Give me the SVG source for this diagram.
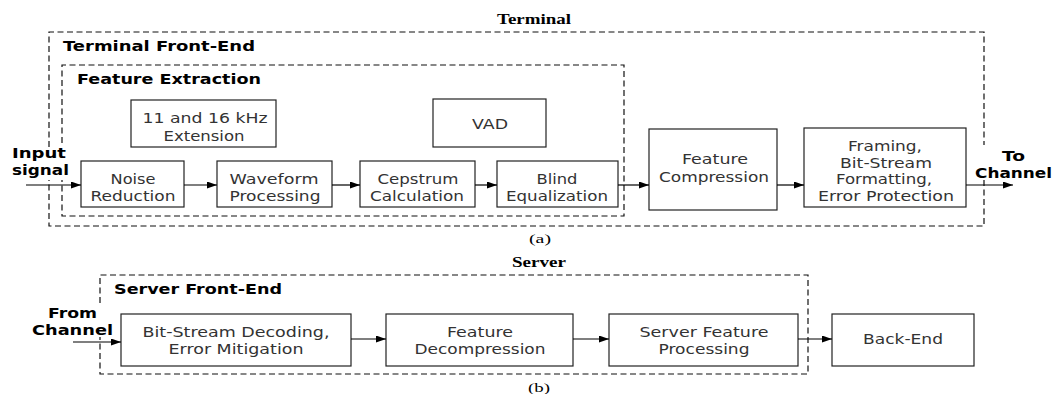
<svg xmlns="http://www.w3.org/2000/svg" width="1056" height="394" viewBox="0 0 1056 394">
  <style>
    .box { fill: #fff; stroke: #222; stroke-width: 1.2; }
    .dash { fill: none; stroke: #111; stroke-width: 1.2; stroke-dasharray: 6 3.5; }
    .lbl { font-family: "DejaVu Sans", Verdana, sans-serif; font-size: 14px; fill: #333; text-anchor: middle; }
    .bold { font-family: "DejaVu Sans", Verdana, sans-serif; font-size: 14px; font-weight: bold; fill: #000; }
    .title { font-family: "Liberation Serif", "Times New Roman", serif; font-size: 14px; font-weight: bold; fill: #000; text-anchor: middle; }
    .cap { font-family: "Liberation Serif", "Times New Roman", serif; font-size: 13px; fill: #000; text-anchor: middle; }
    .wire { fill: none; stroke: #000; stroke-width: 1.2; marker-end: url(#arrow); }
  </style>
  <defs>
    <marker id="arrow" markerUnits="userSpaceOnUse" markerWidth="11" markerHeight="8" refX="10" refY="3.5" orient="auto">
      <path d="M0,0 L10,3.5 L0,7 z" fill="#000"/>
    </marker>
  </defs>
  <rect width="1056" height="394" fill="#fff"/>

  <!-- (a) terminal side -->
  <g id="terminal">
    <text class="title" x="534" y="24" textLength="74" lengthAdjust="spacingAndGlyphs">Terminal</text>
    <path class="dash" d="M49,147 V32 H984 V145 M984,180 V226 H49 V180"/>
  </g>
  <g id="terminal-front-end">
    <text class="bold" x="63" y="51" textLength="192" lengthAdjust="spacingAndGlyphs">Terminal Front-End</text>
  </g>
  <g id="feature-extraction">
    <path class="dash" d="M62,143 V65 H624 V216 H62 V180"/>
    <text class="bold" x="77" y="84" textLength="184" lengthAdjust="spacingAndGlyphs">Feature Extraction</text>
  </g>
  <g id="ext">
    <rect class="box" x="131" y="100" width="145" height="47"/>
    <text class="lbl" x="205" y="123" textLength="125" lengthAdjust="spacingAndGlyphs">11 and 16 kHz</text>
    <text class="lbl" x="204" y="141" textLength="81" lengthAdjust="spacingAndGlyphs">Extension</text>
  </g>
  <g id="vad">
    <rect class="box" x="433" y="99" width="113" height="48"/>
    <text class="lbl" x="490" y="129" textLength="36" lengthAdjust="spacingAndGlyphs">VAD</text>
  </g>
  <g id="noise">
    <rect class="box" x="81" y="161" width="103" height="46"/>
    <text class="lbl" x="133" y="184" textLength="45" lengthAdjust="spacingAndGlyphs">Noise</text>
    <text class="lbl" x="133" y="201" textLength="85" lengthAdjust="spacingAndGlyphs">Reduction</text>
  </g>
  <g id="waveform">
    <rect class="box" x="217" y="161" width="115" height="46"/>
    <text class="lbl" x="274" y="184" textLength="89" lengthAdjust="spacingAndGlyphs">Waveform</text>
    <text class="lbl" x="275" y="201" textLength="91" lengthAdjust="spacingAndGlyphs">Processing</text>
  </g>
  <g id="cepstrum">
    <rect class="box" x="360" y="161" width="115" height="46"/>
    <text class="lbl" x="418" y="184" textLength="81" lengthAdjust="spacingAndGlyphs">Cepstrum</text>
    <text class="lbl" x="417" y="201" textLength="94" lengthAdjust="spacingAndGlyphs">Calculation</text>
  </g>
  <g id="blind">
    <rect class="box" x="497" y="161" width="121" height="46"/>
    <text class="lbl" x="557" y="184" textLength="41" lengthAdjust="spacingAndGlyphs">Blind</text>
    <text class="lbl" x="557" y="201" textLength="102" lengthAdjust="spacingAndGlyphs">Equalization</text>
  </g>
  <g id="compression">
    <rect class="box" x="649" y="129" width="128" height="81"/>
    <text class="lbl" x="715" y="164" textLength="66" lengthAdjust="spacingAndGlyphs">Feature</text>
    <text class="lbl" x="714" y="182" textLength="110" lengthAdjust="spacingAndGlyphs">Compression</text>
  </g>
  <g id="framing">
    <rect class="box" x="804" y="128" width="162" height="79"/>
    <text class="lbl" x="885" y="151" textLength="74" lengthAdjust="spacingAndGlyphs">Framing,</text>
    <text class="lbl" x="886" y="168" textLength="92" lengthAdjust="spacingAndGlyphs">Bit-Stream</text>
    <text class="lbl" x="884" y="184" textLength="96" lengthAdjust="spacingAndGlyphs">Formatting,</text>
    <text class="lbl" x="886" y="201" textLength="136" lengthAdjust="spacingAndGlyphs">Error Protection</text>
  </g>
  <g id="input">
    <text class="bold" x="12" y="158" textLength="54" lengthAdjust="spacingAndGlyphs">Input</text>
    <text class="bold" x="12" y="175" textLength="57" lengthAdjust="spacingAndGlyphs">signal</text>
  </g>
  <g id="to-channel">
    <text class="bold" x="1002" y="161" textLength="23" lengthAdjust="spacingAndGlyphs">To</text>
    <text class="bold" x="975" y="178" textLength="77" lengthAdjust="spacingAndGlyphs">Channel</text>
  </g>
  <text class="cap" x="540" y="243" textLength="22" lengthAdjust="spacingAndGlyphs">(a)</text>

  <!-- (b) server side -->
  <g id="server">
    <text class="title" x="539" y="267" textLength="54" lengthAdjust="spacingAndGlyphs">Server</text>
  </g>
  <g id="server-front-end">
    <path class="dash" d="M100,303 V275 H808 V374 H100 V337"/>
    <text class="bold" x="114" y="294" textLength="168" lengthAdjust="spacingAndGlyphs">Server Front-End</text>
  </g>
  <g id="decoding">
    <rect class="box" x="121" y="314" width="230" height="52"/>
    <text class="lbl" x="236" y="337" textLength="187" lengthAdjust="spacingAndGlyphs">Bit-Stream Decoding,</text>
    <text class="lbl" x="236" y="354" textLength="135" lengthAdjust="spacingAndGlyphs">Error Mitigation</text>
  </g>
  <g id="decompression">
    <rect class="box" x="386" y="314" width="187" height="52"/>
    <text class="lbl" x="480" y="337" textLength="66" lengthAdjust="spacingAndGlyphs">Feature</text>
    <text class="lbl" x="480" y="354" textLength="131" lengthAdjust="spacingAndGlyphs">Decompression</text>
  </g>
  <g id="server-processing">
    <rect class="box" x="609" y="314" width="189" height="52"/>
    <text class="lbl" x="704" y="337" textLength="129" lengthAdjust="spacingAndGlyphs">Server Feature</text>
    <text class="lbl" x="704" y="354" textLength="91" lengthAdjust="spacingAndGlyphs">Processing</text>
  </g>
  <g id="back-end">
    <rect class="box" x="832" y="314" width="142" height="52"/>
    <text class="lbl" x="903" y="344" textLength="80" lengthAdjust="spacingAndGlyphs">Back-End</text>
  </g>
  <g id="from-channel">
    <text class="bold" x="48" y="318" textLength="49" lengthAdjust="spacingAndGlyphs">From</text>
    <text class="bold" x="32" y="335" textLength="81" lengthAdjust="spacingAndGlyphs">Channel</text>
  </g>
  <text class="cap" x="539" y="392" textLength="22" lengthAdjust="spacingAndGlyphs">(b)</text>

  <!-- connectors -->
  <g id="connectors">
    <path class="wire" d="M26,185 H81"/>
    <path class="wire" d="M184,185 H217"/>
    <path class="wire" d="M332,185 H360"/>
    <path class="wire" d="M475,185 H497"/>
    <path class="wire" d="M618,185 H649"/>
    <path class="wire" d="M777,185 H804"/>
    <path class="wire" d="M966,185 H1013"/>
    <path class="wire" d="M73,342 H121"/>
    <path class="wire" d="M351,339 H386"/>
    <path class="wire" d="M573,339 H609"/>
    <path class="wire" d="M798,339 H832"/>
  </g>
</svg>
